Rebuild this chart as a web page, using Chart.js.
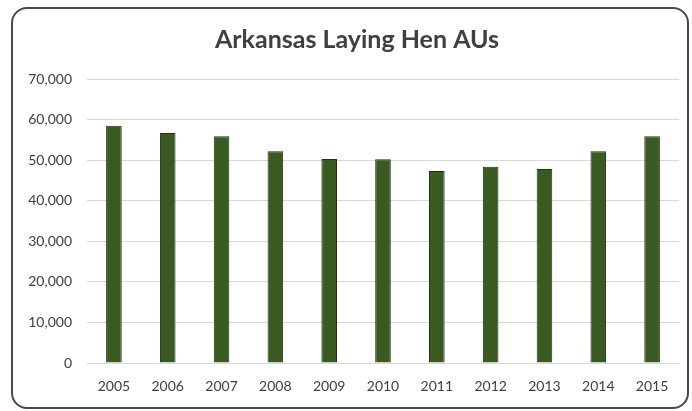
<!DOCTYPE html>
<html>
<head>
<meta charset="utf-8">
<script src="https://cdn.jsdelivr.net/npm/chart.js@4/dist/chart.umd.min.js"></script>
<style>
  html, body { margin: 0; padding: 0; background: #fff; }
  #wrap { position: relative; width: 692px; height: 411px; }
  #frame { position: absolute; left: 11px; top: 7px; width: 674px; height: 398px;
           border: 2px solid #4a4a4a; border-radius: 16px; pointer-events: none; }
  canvas { position: absolute; left: 0; top: 0; }
</style>
</head>
<body>
<div id="wrap">
  <canvas id="c" width="692" height="411"></canvas>
  <div id="frame"></div>
</div>
<script>
const categories = ['2005','2006','2007','2008','2009','2010','2011','2012','2013','2014','2015'];
const layingHenAUs = [58500, 56700, 55900, 52200, 50300, 50200, 47300, 48400, 47800, 52200, 55900];
const yTicks = [0, 10000, 20000, 30000, 40000, 50000, 60000, 70000];
const chartTitle = 'Arkansas Laying Hen AUs';

const shiftTitle = {
  id: 'shiftTitle',
  afterLayout(chart) {
    const t = chart.titleBlock;
    if (t) { t.left = 35; t.right = 679; }
  }
};

new Chart(document.getElementById('c'), {
  type: 'bar',
  data: {
    labels: categories,
    datasets: [{
      label: 'Laying Hen AUs',
      data: layingHenAUs,
      backgroundColor: '#3a5a22',
      borderColor: '#1c330e',
      borderWidth: 1,
      barPercentage: 0.58,
      categoryPercentage: 0.5
    }]
  },
  plugins: [shiftTitle],
  options: {
    responsive: false,
    animation: false,
    devicePixelRatio: 1,
    layout: { padding: { left: 0, right: 13, top: 0, bottom: 0 } },
    plugins: {
      legend: { display: false },
      tooltip: { enabled: false },
      title: {
        display: true,
        text: chartTitle,
        color: '#404040',
        font: { family: 'Lato', size: 25, weight: 'bold', lineHeight: 1.2 },
        padding: { top: 25, bottom: 24 }
      }
    },
    scales: {
      x: {
        grid: { display: false, drawTicks: false },
        border: { display: false },
        ticks: { color: '#404040', font: { family: 'Lato', size: 14 }, padding: 15, maxRotation: 0 },
        afterFit: (s) => { s.height = 411 - 363; }
      },
      y: {
        min: 0, max: 70000,
        afterBuildTicks: (s) => { s.ticks = yTicks.map(v => ({ value: v })); },
        grid: { color: '#d9d9d9', lineWidth: 1, drawTicks: false },
        border: { display: false },
        ticks: {
          color: '#404040',
          font: { family: 'Lato', size: 14 },
          padding: 15,
          callback: (v) => v.toLocaleString('en-US')
        },
        afterFit: (s) => { s.width = 87; }
      }
    }
  }
});
</script>
</body>
</html>
